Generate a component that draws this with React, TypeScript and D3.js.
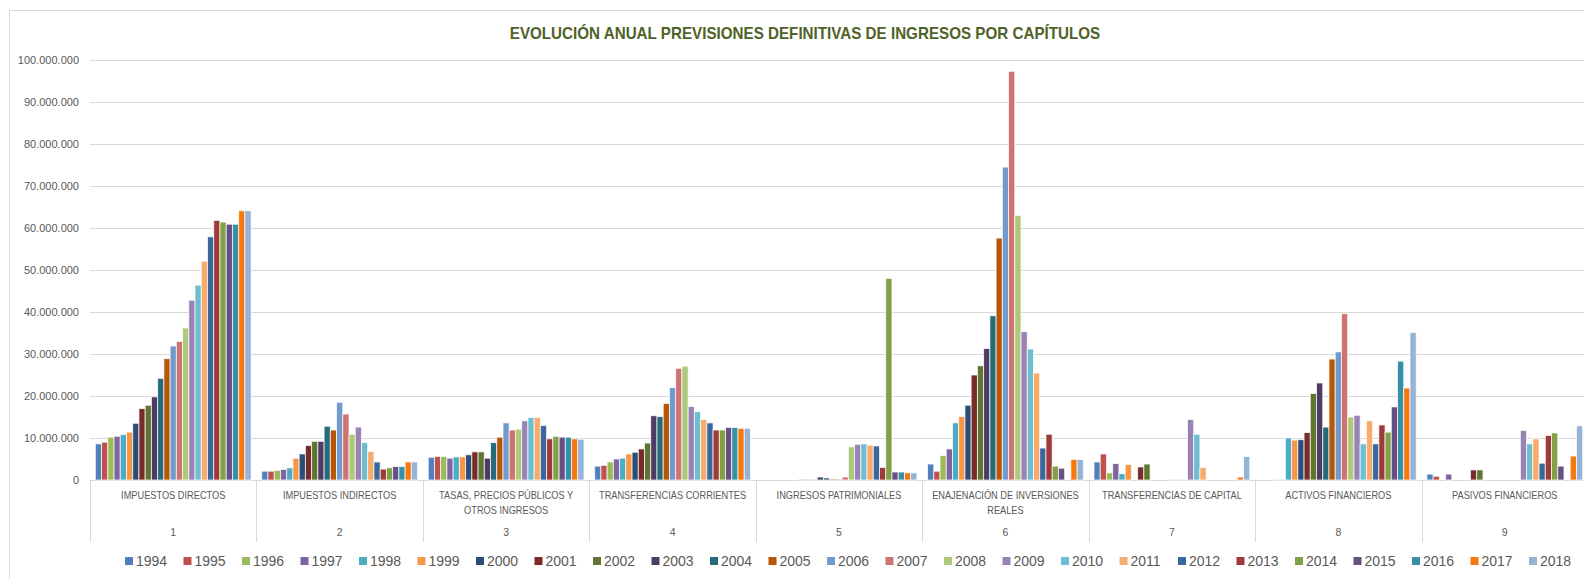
import { useEffect, useRef } from 'react';
import * as d3 from 'd3';

// años (series)
const years = [
  '1994', '1995', '1996', '1997', '1998', '1999', '2000', '2001', '2002',
  '2003', '2004', '2005', '2006', '2007', '2008', '2009', '2010', '2011',
  '2012', '2013', '2014', '2015', '2016', '2017', '2018',
];

const yearColors = [
  '#4F81BD', '#C0504D', '#9BBB59', '#8064A2', '#4BACC6', '#F79646',
  '#2C4D75', '#772C2A', '#5F7530', '#4D3B62', '#276A7C', '#B65708',
  '#729ACA', '#CD7371', '#AFC97A', '#9983B5', '#6FBDD1', '#F9AB6B',
  '#3A679C', '#9E3B38', '#82A045', '#664F83', '#3890A8', '#F7780C',
  '#95B3D7',
];

// capítulos (categorías)
const capitulos = ['1', '2', '3', '4', '5', '6', '7', '8', '9'];
const capituloNames = [
  ['IMPUESTOS DIRECTOS'],
  ['IMPUESTOS INDIRECTOS'],
  ['TASAS, PRECIOS PÚBLICOS Y', 'OTROS INGRESOS'],
  ['TRANSFERENCIAS CORRIENTES'],
  ['INGRESOS PATRIMONIALES'],
  ['ENAJENACIÓN DE INVERSIONES', 'REALES'],
  ['TRANSFERENCIAS DE CAPITAL'],
  ['ACTIVOS FINANCIEROS'],
  ['PASIVOS FINANCIEROS'],
];

// previsiones definitivas, millones de euros, 1994..2018
const cap1 = [8.6, 9.0, 10.2, 10.4, 10.8, 11.4, 13.5, 17.0, 17.8, 19.8, 24.2, 28.9, 31.9, 33.0, 36.2, 42.8, 46.4, 52.1, 57.9, 61.8, 61.4, 60.9, 60.9, 64.1, 64.1];
const cap2 = [2.1, 2.1, 2.3, 2.5, 2.9, 5.2, 6.2, 8.2, 9.2, 9.2, 12.8, 11.9, 18.5, 15.7, 10.9, 12.6, 8.9, 6.8, 4.3, 2.6, 2.9, 3.2, 3.2, 4.3, 4.3];
const cap3 = [5.4, 5.6, 5.6, 5.2, 5.5, 5.5, 6.0, 6.7, 6.7, 5.2, 8.9, 10.2, 13.6, 11.9, 12.1, 14.1, 14.9, 14.9, 13.0, 9.8, 10.4, 10.2, 10.2, 9.8, 9.7];
const cap4 = [3.3, 3.5, 4.3, 5.0, 5.2, 6.2, 6.6, 7.4, 8.8, 15.3, 15.1, 18.2, 22.0, 26.6, 27.1, 17.5, 16.3, 14.4, 13.6, 11.9, 11.9, 12.5, 12.5, 12.3, 12.3];
const cap5 = [0, 0, 0, 0, 0, 0, 0.15, 0.15, 0.15, 0.7, 0.5, 0.25, 0.25, 0.7, 7.9, 8.5, 8.6, 8.3, 8.1, 3.0, 48.0, 1.9, 1.9, 1.7, 1.7];
const cap6 = [3.8, 2.1, 5.8, 7.4, 13.6, 15.1, 17.8, 25.0, 27.2, 31.3, 39.1, 57.6, 74.5, 97.3, 63.0, 35.3, 31.2, 25.5, 7.6, 10.9, 3.3, 2.8, 0, 4.9, 4.9];
const cap7 = [4.3, 6.2, 1.7, 3.9, 1.5, 3.7, 0, 3.1, 3.8, 0, 0, 0, 0.1, 0.1, 0.15, 14.4, 10.9, 3.0, 0, 0, 0, 0, 0, 0.7, 5.6];
const cap8 = [0, 0, 0.15, 0.15, 10.0, 9.5, 9.6, 11.3, 20.6, 23.1, 12.6, 28.8, 30.5, 39.6, 15.0, 15.4, 8.6, 14.1, 8.6, 13.1, 11.4, 17.4, 28.3, 21.9, 35.1];
const cap9 = [1.4, 0.9, 0, 1.4, 0, 0, 0, 2.4, 2.4, 0, 0, 0, 0, 0, 0, 11.8, 8.6, 9.8, 4.0, 10.6, 11.2, 3.3, 0, 5.7, 12.9];

const yTicks = [0, 10, 20, 30, 40, 50, 60, 70, 80, 90, 100].map(d => d * 1e6);

const esFormat = d3.formatLocale({
  decimal: ',',
  thousands: '.',
  grouping: [3],
  currency: ['', ' €'],
}).format(',d');

const FONT = '"Liberation Sans", Arial, sans-serif';

const App = () => {
  const svgRef = useRef<SVGSVGElement | null>(null);

  useEffect(() => {
    const width = 1584;
    const height = 579;
    const left = 90;
    const right = 1588; // plot runs a little past the visible edge
    const top = 60;
    const bottom = 480;
    const grey = '#595959';
    const lineColor = '#d9d9d9';

    const series = [cap1, cap2, cap3, cap4, cap5, cap6, cap7, cap8, cap9];
    const rows = capitulos.flatMap((c, ci) =>
      years.map((y, yi) => ({ cap: c, year: y, value: series[ci][yi] * 1e6 }))
    );

    const svg = d3.select(svgRef.current);
    svg.selectAll('*').remove();
    svg.attr('width', width).attr('height', height);

    svg.append('rect')
      .attr('width', width).attr('height', height).attr('fill', '#fff');

    // chart frame
    svg.append('rect')
      .attr('x', 9.5).attr('y', 10.5)
      .attr('width', 1700).attr('height', 700)
      .attr('fill', 'none').attr('stroke', lineColor);

    const x0 = d3.scaleBand<string>()
      .domain(capitulos)
      .range([left, right])
      .paddingInner(0.064)
      .paddingOuter(0.032);

    const x1 = d3.scaleBand<string>()
      .domain(years)
      .range([0, x0.bandwidth()]);

    const y = d3.scaleLinear().domain([0, 100e6]).range([bottom, top]);

    const color = d3.scaleOrdinal<string>().domain(years).range(yearColors);

    // narrow-looking text: squeeze horizontally around the anchor
    const squeezed = (
      parent: d3.Selection<SVGGElement, unknown, null, undefined>,
      x: number, yPos: number, sx: number, txt: string
    ) => parent.append('text')
      .attr('transform', `translate(${x},${yPos}) scale(${sx},1)`)
      .text(txt);

    // gridlines
    svg.append('g')
      .selectAll('line')
      .data(yTicks)
      .enter()
      .append('line')
      .attr('x1', left).attr('x2', right)
      .attr('y1', d => Math.round(y(d)) + 0.5)
      .attr('y2', d => Math.round(y(d)) + 0.5)
      .attr('stroke', lineColor)
      .attr('stroke-width', 1);

    // y labels
    svg.append('g')
      .selectAll('text')
      .data(yTicks)
      .enter()
      .append('text')
      .attr('x', 79)
      .attr('y', d => y(d))
      .attr('dy', '0.35em')
      .attr('text-anchor', 'end')
      .style('font-family', FONT)
      .style('font-size', '11px')
      .style('fill', grey)
      .text(d => esFormat(d));

    // bars
    svg.append('g')
      .selectAll('rect')
      .data(rows)
      .enter()
      .append('rect')
      .attr('x', d => (x0(d.cap) ?? 0) + (x1(d.year) ?? 0))
      .attr('y', d => y(d.value))
      .attr('width', x1.bandwidth())
      .attr('height', d => bottom - y(d.value))
      .attr('fill', d => color(d.year))
      .attr('stroke', '#fff')
      .attr('stroke-opacity', 0.8)
      .attr('stroke-width', 0.9);

    // category separators
    const step = x0.step();
    const seps = capitulos.map((_, i) => left + i * step).concat([right]);
    svg.append('g')
      .selectAll('line')
      .data(seps)
      .enter()
      .append('line')
      .attr('x1', d => Math.round(d) + 0.5).attr('x2', d => Math.round(d) + 0.5)
      .attr('y1', bottom).attr('y2', 542)
      .attr('stroke', lineColor);

    // category labels
    const catG = svg.append('g')
      .style('font-family', FONT)
      .style('font-size', '10.5px')
      .style('fill', grey)
      .attr('text-anchor', 'middle');

    capitulos.forEach((c, i) => {
      const cx = left + i * step + step / 2;
      capituloNames[i].forEach((line, li) => {
        squeezed(catG, cx, 499 + li * 15, 0.88, line);
      });
      catG.append('text')
        .attr('x', cx)
        .attr('y', 536)
        .text(c);
    });

    // title
    const titleG = svg.append('g')
      .attr('text-anchor', 'middle')
      .style('font-family', FONT)
      .style('font-weight', 'bold')
      .style('font-size', '16px')
      .style('fill', '#4F6228');
    squeezed(titleG, 805, 39, 0.95,
      'EVOLUCIÓN ANUAL PREVISIONES DEFINITIVAS DE INGRESOS POR CAPÍTULOS');

    // legend
    const legend = svg.append('g').attr('transform', 'translate(125, 561)');
    years.forEach((yr, i) => {
      const row = legend.append('g').attr('transform', `translate(${i * 58.5}, 0)`);
      row.append('rect')
        .attr('x', 0).attr('y', -4)
        .attr('width', 8).attr('height', 8)
        .attr('fill', color(yr));
      row.append('text')
        .attr('x', 11)
        .attr('y', 0)
        .attr('dy', '0.36em')
        .style('font-family', FONT)
        .style('font-size', '14px')
        .style('fill', grey)
        .text(yr);
    });
  }, []);

  return (
    <svg ref={svgRef} style={{ position: 'absolute', left: 0, top: 0, display: 'block' }}></svg>
  );
};

export default App;
